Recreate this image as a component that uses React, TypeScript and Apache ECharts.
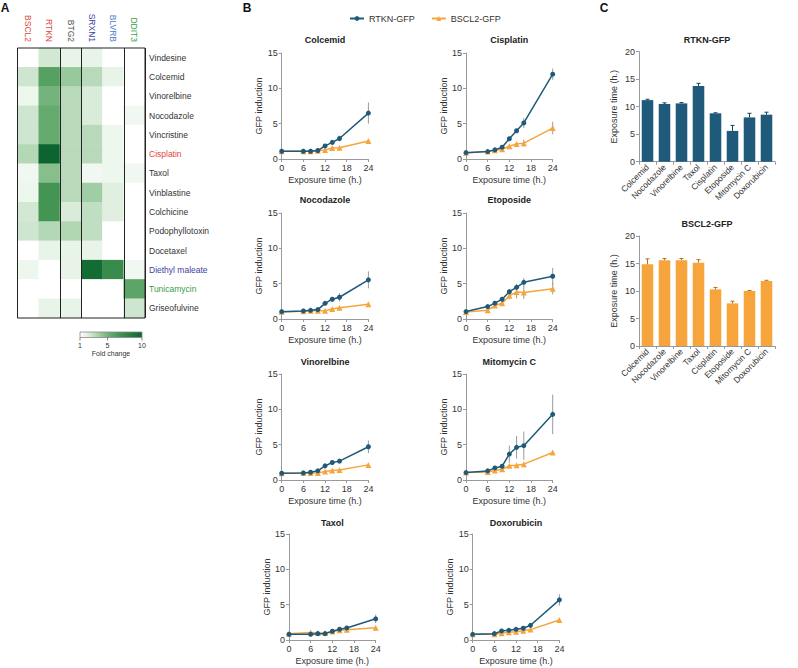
import React, { useEffect, useRef } from 'react';
import * as echarts from 'echarts';

const FONT = '"Liberation Sans", Arial, Helvetica, sans-serif';
const BLUE = '#1f5a7b';
const ORANGE = '#f6a53d';
const AXIS = '#9a9a9a';
const TXT = '#333333';

// ---------- Panel A data ----------
const genes = ['BSCL2', 'RTKN', 'BTG2', 'SRXN1', 'BLVRB', 'DDIT3'];
const geneColorKeys = ['red', 'red', 'gray', 'navy', 'blue', 'green'];
const compounds = ['Vindesine', 'Colcemid', 'Vinorelbine', 'Nocodazole', 'Vincristine', 'Cisplatin', 'Taxol',
  'Vinblastine', 'Colchicine', 'Podophyllotoxin', 'Docetaxel', 'Diethyl maleate', 'Tunicamycin', 'Griseofulvine'];
const compoundColorKeys = ['dark', 'dark', 'dark', 'dark', 'dark', 'red', 'dark', 'dark', 'dark', 'dark', 'dark', 'navy', 'green', 'dark'];
const foldBSCL2 = [1, 2.6, 1.6, 2.6, 2.6, 3.3, 1.5, 1.6, 2.5, 2.6, 1, 1.6, 1, 1];
const foldRTKN = [2.5, 6.0, 5.0, 5.5, 5.5, 10, 4.5, 6.8, 6.8, 3.3, 1.8, 1, 1, 1.8];
const foldBTG2 = [1.8, 4.0, 3.2, 3.2, 3.2, 3.2, 3.2, 3.2, 2.3, 3.4, 1.8, 1.8, 1, 1.8];
const foldSRXN1 = [1.8, 3.2, 2.3, 2.3, 3.2, 3.2, 1.5, 3.8, 3.0, 3.0, 1.8, 9.5, 1, 1];
const foldBLVRB = [1, 1.8, 1, 1, 1.6, 1.6, 1.6, 2.1, 2.1, 1, 1, 7.4, 1, 1];
const foldDDIT3 = [1, 1, 1, 1.5, 1, 1, 1.5, 1, 1, 1, 1, 1.5, 5.8, 2.6];
const foldColumns = [foldBSCL2, foldRTKN, foldBTG2, foldSRXN1, foldBLVRB, foldDDIT3];
const foldTicks = [1, 5, 10];
const greenScale = ['#ffffff', '#e3f1e3', '#c0dec1', '#98c99c', '#74b37c', '#56a062', '#40914f', '#2b8143', '#1b7439', '#0c6430'];

// ---------- Panel B data ----------
const timesH = [0, 6, 8, 10, 12, 14, 16, 24];
const rtknColcemid = [1.1, 1.1, 1.1, 1.2, 1.85, 2.35, 2.9, 6.5];
const rtknColcemidSd = [0.05, 0.05, 0.05, 0.1, 0.15, 0.2, 0.4, 1.5];
const bsclColcemid = [1.1, 1.1, 1.1, 1.15, 1.28, 1.55, 1.6, 2.55];
const bsclColcemidSd = [0.05, 0.05, 0.05, 0.05, 0.1, 0.15, 0.15, 0.2];
const rtknCisplatin = [0.9, 1.05, 1.29, 1.67, 2.86, 4.0, 5.1, 12.0];
const rtknCisplatinSd = [0.05, 0.05, 0.1, 0.15, 0.2, 0.2, 0.7, 0.8];
const bsclCisplatin = [0.9, 1.05, 1.24, 1.38, 1.81, 2.14, 2.24, 4.38];
const bsclCisplatinSd = [0.05, 0.05, 0.05, 0.1, 0.15, 0.2, 0.5, 0.9];
const rtknNocodazole = [1.04, 1.14, 1.23, 1.33, 2.22, 2.8, 3.08, 5.54];
const rtknNocodazoleSd = [0.05, 0.05, 0.05, 0.1, 0.15, 0.15, 0.6, 1.2];
const bsclNocodazole = [1.04, 1.1, 1.15, 1.15, 1.18, 1.42, 1.6, 2.08];
const bsclNocodazoleSd = [0.05, 0.05, 0.05, 0.05, 0.1, 0.1, 0.15, 0.15];
const rtknEtoposide = [1.05, 1.76, 2.24, 2.8, 3.86, 4.48, 5.19, 6.05];
const rtknEtoposideSd = [0.05, 0.15, 0.2, 0.2, 0.4, 0.5, 0.6, 1.2];
const bsclEtoposide = [1.0, 1.24, 1.9, 2.24, 3.29, 3.81, 3.76, 4.29];
const bsclEtoposideSd = [0.05, 0.1, 0.2, 0.2, 0.5, 0.9, 0.9, 0.8];
const rtknVinorelbine = [0.95, 1.0, 1.1, 1.3, 2.0, 2.48, 2.67, 4.7];
const rtknVinorelbineSd = [0.05, 0.05, 0.05, 0.1, 0.1, 0.15, 0.15, 0.9];
const bsclVinorelbine = [0.95, 1.0, 1.0, 1.0, 1.2, 1.33, 1.43, 2.14];
const bsclVinorelbineSd = [0.05, 0.05, 0.05, 0.05, 0.1, 0.1, 0.1, 0.15];
const rtknMitomycin = [1.05, 1.29, 1.71, 1.95, 3.67, 4.62, 4.86, 9.29];
const rtknMitomycinSd = [0.05, 0.1, 0.3, 0.3, 1.2, 1.6, 2.0, 2.8];
const bsclMitomycin = [1.05, 1.14, 1.33, 1.52, 2.0, 2.1, 2.24, 3.9];
const bsclMitomycinSd = [0.05, 0.05, 0.1, 0.1, 0.15, 0.15, 0.15, 0.2];
const rtknTaxol = [0.81, 0.81, 0.9, 0.9, 1.24, 1.52, 1.71, 3.0];
const rtknTaxolSd = [0.05, 0.05, 0.05, 0.05, 0.1, 0.15, 0.25, 0.6];
const bsclTaxol = [0.9, 1.05, 1.0, 1.0, 1.2, 1.38, 1.45, 1.75];
const bsclTaxolSd = [0.05, 0.05, 0.05, 0.05, 0.1, 0.1, 0.1, 0.15];
const rtknDoxorubicin = [0.8, 0.9, 1.28, 1.37, 1.51, 1.66, 2.08, 5.68];
const rtknDoxorubicinSd = [0.05, 0.05, 0.1, 0.1, 0.1, 0.1, 0.15, 0.8];
const bsclDoxorubicin = [0.8, 0.8, 0.95, 1.09, 1.18, 1.32, 1.47, 2.84];
const bsclDoxorubicinSd = [0.05, 0.05, 0.05, 0.05, 0.05, 0.1, 0.1, 0.15];
const xTicksH = [0, 24, 6];
const yTicksGFP = [0, 15, 5];

// ---------- Panel C data ----------
const barDrugs = ['Colcemid', 'Nocodazole', 'Vinorelbine', 'Taxol', 'Cisplatin', 'Etoposide', 'Mitomycin C', 'Doxorubicin'];
const rtknOnset = [11.2, 10.5, 10.6, 13.75, 8.8, 5.6, 8.05, 8.55];
const rtknOnsetSd = [0.15, 0.2, 0.15, 0.5, 0.1, 1.0, 0.75, 0.45];
const bsclOnset = [14.85, 15.6, 15.6, 15.15, 10.3, 7.75, 10.0, 11.8];
const bsclOnsetSd = [1.0, 0.3, 0.3, 0.55, 0.35, 0.4, 0.1, 0.15];
const yTicksOnset = [0, 20, 5];

const panelsB = [
  { title: 'Colcemid', rtkn: rtknColcemid, rtknSd: rtknColcemidSd, bscl: bsclColcemid, bsclSd: bsclColcemidSd },
  { title: 'Cisplatin', rtkn: rtknCisplatin, rtknSd: rtknCisplatinSd, bscl: bsclCisplatin, bsclSd: bsclCisplatinSd },
  { title: 'Nocodazole', rtkn: rtknNocodazole, rtknSd: rtknNocodazoleSd, bscl: bsclNocodazole, bsclSd: bsclNocodazoleSd },
  { title: 'Etoposide', rtkn: rtknEtoposide, rtknSd: rtknEtoposideSd, bscl: bsclEtoposide, bsclSd: bsclEtoposideSd },
  { title: 'Vinorelbine', rtkn: rtknVinorelbine, rtknSd: rtknVinorelbineSd, bscl: bsclVinorelbine, bsclSd: bsclVinorelbineSd },
  { title: 'Mitomycin C', rtkn: rtknMitomycin, rtknSd: rtknMitomycinSd, bscl: bsclMitomycin, bsclSd: bsclMitomycinSd },
  { title: 'Taxol', rtkn: rtknTaxol, rtknSd: rtknTaxolSd, bscl: bsclTaxol, bsclSd: bsclTaxolSd },
  { title: 'Doxorubicin', rtkn: rtknDoxorubicin, rtknSd: rtknDoxorubicinSd, bscl: bsclDoxorubicin, bsclSd: bsclDoxorubicinSd },
];

// layout (positions only)
const gridPosB = [
  [281.7, 53], [466, 53], [281.7, 213], [466, 213], [281.7, 374], [466, 374], [289, 534], [472.7, 534],
];
const GW = 86.7;
const GH = 106;
const titleYB = [39.5, 39.5, 200, 200, 361.5, 361.5, 523, 523];

const labelRich = {
  dark: { color: TXT, fontSize: 8.5, fontFamily: FONT },
  red: { color: '#e0483c', fontSize: 8.5, fontFamily: FONT },
  gray: { color: '#555555', fontSize: 8.5, fontFamily: FONT },
  navy: { color: '#41419f', fontSize: 8.5, fontFamily: FONT },
  blue: { color: '#4a7fc8', fontSize: 8.5, fontFamily: FONT },
  green: { color: '#3aa04a', fontSize: 8.5, fontFamily: FONT },
};

function errLine(color: string) {
  return (params: any, api: any) => {
    const x = api.value(0);
    const y = api.value(1);
    const e = api.value(2);
    const lo = api.coord([x, y - e]);
    const hi = api.coord([x, y + e]);
    return {
      type: 'line',
      shape: { x1: lo[0], y1: lo[1], x2: hi[0], y2: hi[1] },
      style: { stroke: color, lineWidth: 1 },
    };
  };
}

function errUp(color: string) {
  return (params: any, api: any) => {
    const x = api.value(0);
    const y = api.value(1);
    const e = api.value(2);
    const lo = api.coord([x, y]);
    const hi = api.coord([x, y + e]);
    return {
      type: 'group',
      children: [
        { type: 'line', shape: { x1: lo[0], y1: lo[1], x2: hi[0], y2: hi[1] }, style: { stroke: color, lineWidth: 1 } },
        { type: 'line', shape: { x1: hi[0] - 2, y1: hi[1], x2: hi[0] + 2, y2: hi[1] }, style: { stroke: color, lineWidth: 1 } },
      ],
    };
  };
}

function buildOption() {
  const grid: any[] = [];
  const xAxis: any[] = [];
  const yAxis: any[] = [];
  const series: any[] = [];
  const graphic: any[] = [];

  const axisCommon = {
    axisLine: { show: true, lineStyle: { color: AXIS, width: 1 } },
    axisTick: { show: true, length: 3, lineStyle: { color: AXIS } },
    splitLine: { show: false },
    nameTextStyle: { fontSize: 9, color: TXT, fontFamily: FONT },
  };

  panelsB.forEach((p, i) => {
    const [l, t] = gridPosB[i];
    grid.push({ left: l, top: t, width: GW, height: GH });
    xAxis.push({
      ...axisCommon,
      type: 'value', gridIndex: i, min: xTicksH[0], max: xTicksH[1], interval: xTicksH[2],
      name: 'Exposure time (h.)', nameLocation: 'middle', nameGap: 16,
      axisLabel: { fontSize: 9, color: TXT, margin: 4, fontFamily: FONT },
    });
    yAxis.push({
      ...axisCommon,
      type: 'value', gridIndex: i, min: yTicksGFP[0], max: yTicksGFP[1], interval: yTicksGFP[2],
      name: 'GFP induction', nameLocation: 'middle', nameGap: 18,
      axisLabel: { fontSize: 9, color: TXT, margin: 4, fontFamily: FONT },
    });
    series.push({
      type: 'custom', xAxisIndex: i, yAxisIndex: i, z: 1, silent: true,
      renderItem: errLine('#9a9a9a'), encode: { x: 0, y: 1 },
      data: timesH.map((tt, k) => [tt, p.bscl[k], p.bsclSd[k]]),
    });
    series.push({
      type: 'custom', xAxisIndex: i, yAxisIndex: i, z: 1, silent: true,
      renderItem: errLine('#9a9a9a'), encode: { x: 0, y: 1 },
      data: timesH.map((tt, k) => [tt, p.rtkn[k], p.rtknSd[k]]),
    });
    series.push({
      type: 'line', name: 'BSCL2-GFP', xAxisIndex: i, yAxisIndex: i, z: 3,
      data: timesH.map((tt, k) => [tt, p.bscl[k]]),
      symbol: 'triangle', symbolSize: 6,
      lineStyle: { color: ORANGE, width: 1.5 }, itemStyle: { color: ORANGE },
    });
    series.push({
      type: 'line', name: 'RTKN-GFP', xAxisIndex: i, yAxisIndex: i, z: 4,
      data: timesH.map((tt, k) => [tt, p.rtkn[k]]),
      symbol: 'circle', symbolSize: 5,
      lineStyle: { color: BLUE, width: 1.5 }, itemStyle: { color: BLUE },
    });
    graphic.push({
      type: 'text', x: l + GW / 2, y: titleYB[i],
      style: { text: p.title, fontSize: 9, fontWeight: 'bold', fontFamily: FONT, fill: '#222', textAlign: 'center', textVerticalAlign: 'middle' },
    });
  });

  // Panel C bar charts
  const barPanels = [
    { title: 'RTKN-GFP', top: 51.7, data: rtknOnset, sd: rtknOnsetSd, color: BLUE, errColor: '#17425a', titleY: 40 },
    { title: 'BSCL2-GFP', top: 236, data: bsclOnset, sd: bsclOnsetSd, color: ORANGE, errColor: '#b07020', titleY: 224 },
  ];
  barPanels.forEach((bp) => {
    const gi = grid.length;
    grid.push({ left: 639, top: bp.top, width: 136, height: 110 });
    xAxis.push({
      ...axisCommon,
      type: 'category', gridIndex: gi, data: barDrugs,
      axisTick: { show: true, length: 3, lineStyle: { color: AXIS } },
      axisLabel: { fontSize: 8.5, color: TXT, rotate: 45, interval: 0, margin: 4, fontFamily: FONT },
    });
    yAxis.push({
      ...axisCommon,
      type: 'value', gridIndex: gi, min: yTicksOnset[0], max: yTicksOnset[1], interval: yTicksOnset[2],
      name: 'Exposure time (h.)', nameLocation: 'middle', nameGap: 21,
      axisLabel: { fontSize: 9, color: TXT, margin: 4, fontFamily: FONT },
    });
    series.push({
      type: 'bar', xAxisIndex: gi, yAxisIndex: gi, data: bp.data, barWidth: '68%',
      itemStyle: { color: bp.color }, z: 2,
    });
    series.push({
      type: 'custom', xAxisIndex: gi, yAxisIndex: gi, z: 3, silent: true,
      renderItem: errUp(bp.errColor), encode: { x: 0, y: 1 },
      data: bp.data.map((v, k) => [k, v, bp.sd[k]]),
    });
    graphic.push({
      type: 'text', x: 639 + 68, y: bp.titleY,
      style: { text: bp.title, fontSize: 9, fontWeight: 'bold', fontFamily: FONT, fill: '#222', textAlign: 'center', textVerticalAlign: 'middle' },
    });
  });

  // Panel A heatmap
  const hi = grid.length;
  const HL = 17.5, HT = 48, HW = 127.5, HH = 270;
  grid.push({ left: HL, top: HT, width: HW, height: HH, show: true, borderColor: '#222', borderWidth: 1, backgroundColor: 'transparent', z: 5 });
  xAxis.push({
    type: 'category', gridIndex: hi, data: genes, position: 'top', z: 5,
    axisLine: { show: false }, axisTick: { show: false },
    axisLabel: {
      rotate: 90, margin: 6, fontSize: 8.5, fontFamily: FONT,
      formatter: (v: string) => `{${geneColorKeys[genes.indexOf(v)] || 'dark'}|${v}}`,
      rich: labelRich,
    },
    splitLine: { show: true, interval: (idx: number) => idx === 2 || idx === 3 || idx === 5, lineStyle: { color: '#222', width: 1 } },
  });
  yAxis.push({
    type: 'category', gridIndex: hi, data: compounds, inverse: true, position: 'right',
    axisLine: { show: false }, axisTick: { show: false }, splitLine: { show: false },
    axisLabel: {
      margin: 4, fontSize: 8.5, fontFamily: FONT,
      formatter: (v: string) => `{${compoundColorKeys[compounds.indexOf(v)] || 'dark'}|${v}}`,
      rich: labelRich,
    },
  });
  const heatData: any[] = [];
  foldColumns.forEach((col, gi) => col.forEach((v, ci) => heatData.push([gi, ci, v])));
  series.push({
    type: 'heatmap', xAxisIndex: hi, yAxisIndex: hi, data: heatData, z: 1,
    itemStyle: { borderWidth: 0 },
  });

  // heatmap legend
  const LX = 80, LY = 332, LW = 62, LHt = 5.5;
  const stops = greenScale.map((c, k) => ({ offset: k / (greenScale.length - 1), color: c }));
  graphic.push({
    type: 'rect', shape: { x: LX, y: LY, width: LW, height: LHt },
    style: { fill: new echarts.graphic.LinearGradient(0, 0, 1, 0, stops), stroke: '#888', lineWidth: 0.8 },
  });
  foldTicks.forEach((tv) => {
    const x = LX + ((tv - 1) / 9) * LW;
    graphic.push({ type: 'line', shape: { x1: x, y1: LY + LHt, x2: x, y2: LY + LHt + 3 }, style: { stroke: '#666', lineWidth: 0.8 } });
    graphic.push({ type: 'text', x, y: LY + LHt + 7.5, style: { text: String(tv), fontSize: 7, fontFamily: FONT, fill: TXT, textAlign: 'center', textVerticalAlign: 'middle' } });
  });
  graphic.push({ type: 'text', x: LX + LW / 2, y: 353, style: { text: 'Fold change', fontSize: 7, fontFamily: FONT, fill: TXT, textAlign: 'center', textVerticalAlign: 'middle' } });

  // panel letters
  [['A', 5, 8], ['B', 247, 8], ['C', 604, 8]].forEach(([t, x, y]) => {
    graphic.push({ type: 'text', x, y, style: { text: t, fontSize: 12, fontWeight: 'bold', fontFamily: FONT, fill: '#111', textAlign: 'center', textVerticalAlign: 'middle' } });
  });

  return {
    animation: false,
    backgroundColor: '#ffffff',
    textStyle: { fontFamily: FONT },
    legend: {
      data: ['RTKN-GFP', 'BSCL2-GFP'], left: 344, top: 9, itemWidth: 14, itemHeight: 6, itemGap: 16,
      textStyle: { fontSize: 9, color: TXT, fontFamily: FONT },
    },
    visualMap: {
      show: false, type: 'continuous', min: 1, max: 10, seriesIndex: series.length - 1,
      inRange: { color: greenScale },
    },
    grid, xAxis, yAxis, series, graphic,
  };
}

export default function App() {
  const ref = useRef<HTMLDivElement>(null);
  useEffect(() => {
    if (!ref.current) return;
    const chart = echarts.init(ref.current, undefined, { renderer: 'svg' });
    chart.setOption(buildOption() as any);
    return () => chart.dispose();
  }, []);
  return <div ref={ref} style={{ position: 'fixed', left: 0, top: 0, width: 798, height: 668, background: '#fff' }} />;
}
